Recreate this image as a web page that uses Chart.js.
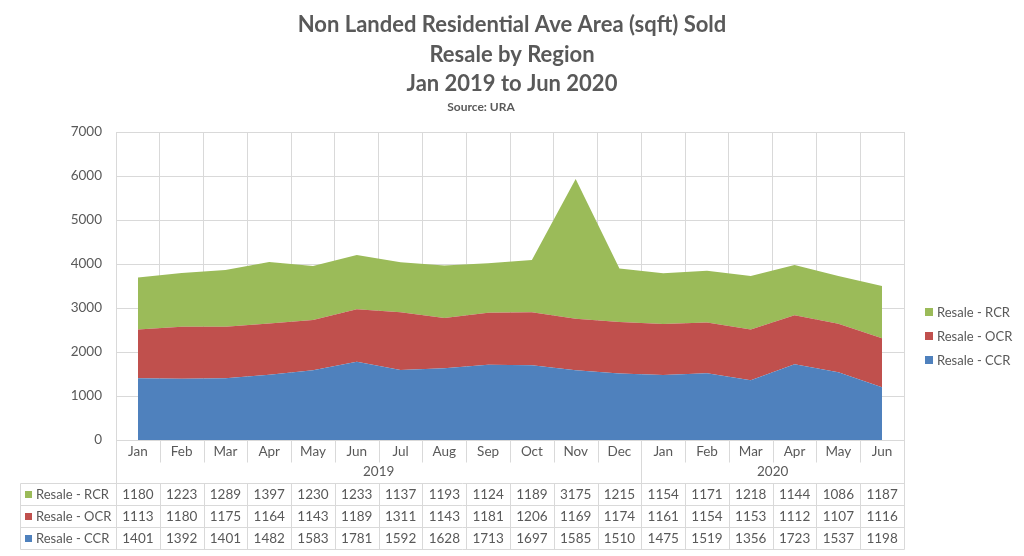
<!DOCTYPE html>
<html>
<head>
<meta charset="utf-8">
<script src="https://cdn.jsdelivr.net/npm/chart.js@4"></script>
<style>
  html, body { margin: 0; padding: 0; background: #ffffff; }
  #wrap { width: 1024px; height: 556px; position: relative; }
</style>
</head>
<body>
<div id="wrap"><canvas id="chart"></canvas></div>
<script>
// Données
const months = ['Jan', 'Feb', 'Mar', 'Apr', 'May', 'Jun', 'Jul', 'Aug', 'Sep', 'Oct', 'Nov', 'Dec',
                'Jan', 'Feb', 'Mar', 'Apr', 'May', 'Jun'];
const years = [{ label: '2019', from: 0, to: 12 }, { label: '2020', from: 12, to: 18 }];
const resaleCCR = [1401, 1392, 1401, 1482, 1583, 1781, 1592, 1628, 1713, 1697, 1585, 1510, 1475, 1519, 1356, 1723, 1537, 1198];
const resaleOCR = [1113, 1180, 1175, 1164, 1143, 1189, 1311, 1143, 1181, 1206, 1169, 1174, 1161, 1154, 1153, 1112, 1107, 1116];
const resaleRCR = [1180, 1223, 1289, 1397, 1230, 1233, 1137, 1193, 1124, 1189, 3175, 1215, 1154, 1171, 1218, 1144, 1086, 1187];
const yTicks = [0, 1000, 2000, 3000, 4000, 5000, 6000, 7000];
const titleLines = ['Non Landed Residential Ave Area (sqft) Sold', 'Resale by Region', 'Jan 2019 to Jun 2020'];
const sourceText = 'Source: URA';

const FONT = 'Lato, "Open Sans", sans-serif';
const TEXT = '#595959';
const GRID = '#d9d9d9';

const series = [
    { label: 'Resale - CCR', data: resaleCCR, color: '#4f81bd' },
    { label: 'Resale - OCR', data: resaleOCR, color: '#c0504d' },
    { label: 'Resale - RCR', data: resaleRCR, color: '#9bbb59' }
];

/**
 * Titre, légende et tableau de données dessinés sur le canvas
 */
const extrasPlugin = {
    id: 'extras',
    afterDraw(chart) {
        const ctx = chart.ctx;
        const area = chart.chartArea;
        const xs = chart.scales.x;
        const n = months.length;
        const w = (area.right - area.left) / n;
        const edge = i => area.left + i * w;

        ctx.save();
        ctx.fillStyle = TEXT;
        ctx.textAlign = 'center';
        ctx.textBaseline = 'middle';

        // Titre
        ctx.font = 'bold 22px ' + FONT;
        const titleY = [25, 55, 84];
        titleLines.forEach((t, i) => ctx.fillText(t, 512, titleY[i]));
        ctx.font = 'bold 12px ' + FONT;
        ctx.fillText(sourceText, 481, 107);

        // Légende (ordre inversé)
        ctx.font = '13px ' + FONT;
        ctx.textAlign = 'left';
        const legY = [360, 336, 312];
        series.forEach((s, i) => {
            ctx.fillStyle = s.color;
            ctx.fillRect(925, legY[i] - 4, 8, 8);
            ctx.fillStyle = TEXT;
            ctx.fillText(s.label, 937, legY[i] + 1);
        });

        // Tableau de données
        ctx.strokeStyle = GRID;
        ctx.lineWidth = 1;
        const line = (x1, y1, x2, y2) => {
            ctx.beginPath();
            ctx.moveTo(Math.round(x1) + 0.5, Math.round(y1) + 0.5);
            ctx.lineTo(Math.round(x2) + 0.5, Math.round(y2) + 0.5);
            ctx.stroke();
        };
        const top = area.bottom;
        const rowTop = 483, rowH = 22;
        const tableBottom = rowTop + rowH * 3;

        for (let i = 1; i < n; i++) {
            if (i === 12) continue;
            line(edge(i), top, edge(i), top + 22);
            line(edge(i), rowTop, edge(i), tableBottom);
        }
        [0, 12, n].forEach(i => line(edge(i), top, edge(i), tableBottom));
        for (let r = 0; r <= 3; r++) {
            line(20, rowTop + r * rowH, area.right, rowTop + r * rowH);
        }
        line(20, rowTop, 20, tableBottom);

        ctx.fillStyle = TEXT;
        ctx.font = '13.5px ' + FONT;
        ctx.textAlign = 'center';
        months.forEach((m, i) => ctx.fillText(m, xs.getPixelForValue(i), top + 12));
        years.forEach(y => ctx.fillText(y.label, (edge(y.from) + edge(y.to)) / 2, top + 32));

        const rows = [series[2], series[1], series[0]];
        rows.forEach((s, r) => {
            const cy = rowTop + r * rowH + rowH / 2 + 1;
            ctx.fillStyle = s.color;
            ctx.fillRect(25, cy - 4, 7, 7);
            ctx.fillStyle = TEXT;
            ctx.textAlign = 'left';
            ctx.font = '13px ' + FONT;
            ctx.fillText(s.label, 36, cy);
            ctx.textAlign = 'center';
            ctx.font = '13.5px ' + FONT;
            s.data.forEach((v, i) => ctx.fillText(String(v), xs.getPixelForValue(i), cy));
        });
        ctx.restore();
    }
};

new Chart(document.getElementById('chart'), {
    type: 'line',
    data: {
        labels: months,
        datasets: series.map((s, i) => ({
            label: s.label,
            data: s.data,
            backgroundColor: s.color,
            borderColor: s.color,
            borderWidth: 0,
            pointRadius: 0,
            tension: 0,
            fill: i === 0 ? 'origin' : '-1'
        }))
    },
    options: {
        responsive: true,
        maintainAspectRatio: false,
        animation: false,
        events: [],
        layout: { padding: { top: 132, left: 66, right: 120, bottom: 116 } },
        plugins: {
            legend: { display: false },
            title: { display: false },
            tooltip: { enabled: false }
        },
        scales: {
            x: {
                offset: true,
                grid: { offset: true, color: GRID, drawTicks: false },
                border: { color: GRID },
                ticks: { display: false },
                afterFit: s => { s.height = 0; }
            },
            y: {
                stacked: true,
                min: 0,
                max: 7000,
                grid: { color: GRID, drawTicks: false },
                border: { display: false },
                afterBuildTicks: s => { s.ticks = yTicks.map(v => ({ value: v })); },
                ticks: {
                    color: TEXT,
                    font: { family: FONT, size: 13.5 },
                    padding: 14,
                    callback: v => String(v)
                },
                afterFit: s => { s.width = 50; }
            }
        }
    },
    plugins: [extrasPlugin]
});
</script>
</body>
</html>
